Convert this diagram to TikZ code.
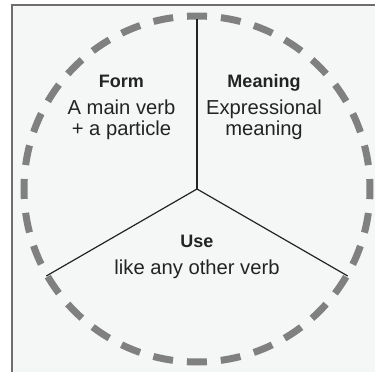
\documentclass[tikz,border=0pt]{standalone}
\usepackage{fontspec}
\setmainfont{Liberation Sans}
\usetikzlibrary{positioning}

\definecolor{framegrey}{HTML}{6E6E6E}
\definecolor{paper}{HTML}{F5F7F7}
\definecolor{ringgrey}{HTML}{808080}
\definecolor{ink}{HTML}{232323}

\begin{document}
\begin{tikzpicture}[x=1pt, y=1pt,
  heading/.style={font=\fontsize{18}{19}\selectfont\bfseries, text=ink, inner sep=0pt, anchor=base},
  body/.style={font=\fontsize{20.2}{21}\selectfont, text=ink, inner sep=0pt, anchor=base},
  spoke/.style={draw=ink, line width=1.2pt}]

  \useasboundingbox (-197,-183) rectangle (178,189);
  \clip (-197,-183) rectangle (178,189);

  % the frame, which runs past the right and bottom edges
  \draw[framegrey, line width=1.4pt, fill=paper] (-185,184) rectangle (200,-200);

  % the dashed ring, one dash centred on each quarter
  \draw[ringgrey, line width=7pt, dash pattern=on 20pt off 13.968pt, dash phase=10pt]
        (0,0) circle (173pt);

  % the three spokes
  \coordinate (hub) at (0,0);
  \coordinate (north) at (90:170pt);
  \coordinate (southwest) at (210:174pt);
  \coordinate (southeast) at (330:174pt);
  \foreach \rim in {north,southwest,southeast}{
    \draw[spoke] (hub) -- (\rim);
  }

  % the sectors
  \node[heading] (formhead) at (-75.5,101.7) {Form};
  \node[body] (formtop) at (-75.5,74) {A main verb};
  \node[body] (formbottom) at (-75.5,53.3) {+ a particle};

  \node[heading] (meaninghead) at (67,101.7) {Meaning};
  \node[body] (meaningtop) at (67,74) {Expressional};
  \node[body] (meaningbottom) at (67,53.3) {meaning};

  \node[heading] (usehead) at (0,-58.7) {Use};
  \node[body] (usebody) at (0,-85.3) {like any other verb};

\end{tikzpicture}
\end{document}
